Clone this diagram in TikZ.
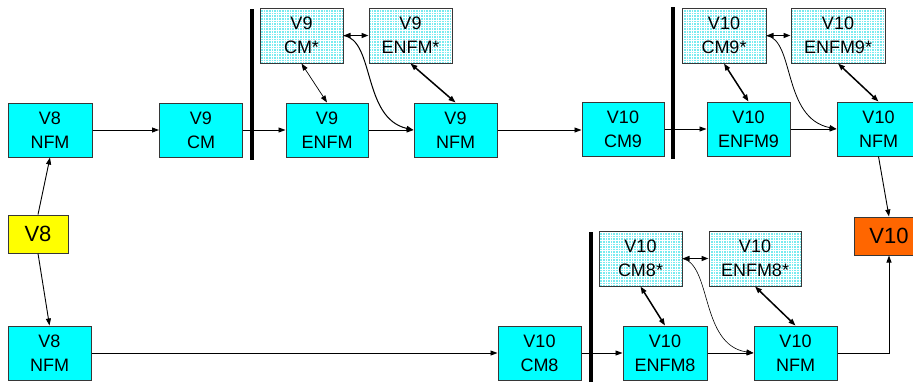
\documentclass[tikz,border=0pt]{standalone}
\usepackage{fontspec}
\setmainfont{Liberation Sans}
\usetikzlibrary{arrows.meta}
\definecolor{boxcyan}{RGB}{0,255,255}
\definecolor{boxyellow}{RGB}{255,255,0}
\definecolor{boxorange}{RGB}{255,102,0}
\definecolor{boxedge}{RGB}{55,55,55}
\definecolor{gridcyan}{RGB}{120,235,240}
\tikzset{
  tip/.style={-{Triangle[length=7pt,width=5pt]}},
  dtip/.style={{Triangle[length=7pt,width=5pt]}-{Triangle[length=7pt,width=5pt]}},
  mbox/.style={draw=boxedge, line width=1pt, fill=boxcyan, minimum width=83pt, minimum height=54pt,
    inner sep=0pt, align=center, font=\fontsize{18}{24}\selectfont},
  starbox/.style={mbox, fill=gridcyan, path picture={
      \draw[white, line width=0.7pt] (path picture bounding box.south west) grid[step=2.6pt] (path picture bounding box.north east);}},
  endbox/.style={draw=boxedge, line width=1pt, minimum width=60pt, minimum height=38pt, inner sep=0pt,
    font=\fontsize{22}{26}\selectfont},
  bar/.style={line width=3.5pt},
  conn/.style={tip, line width=0.9pt},
  dconn/.style={dtip, line width=1.5pt},
}
\begin{document}
\begin{tikzpicture}[x=1pt,y=-1pt]
\useasboundingbox (0,0) rectangle (913,381);
% bars
\draw[bar] (252,9) -- (252,160);
\draw[bar] (673,7) -- (673,159);
\draw[bar] (591,232) -- (591,383);
% nodes
\node[endbox, fill=boxyellow] (v8y) at (38,234) {V8};
\node[endbox, fill=boxorange, minimum width=70pt] (v10o) at (889,236) {V10};
\node[mbox, minimum width=84pt] (v8nt) at (50,130) {V8\\NFM};
\node[mbox] (v9cm) at (201,130) {V9\\CM};
\node[mbox, minimum width=82pt] (v9enfm) at (327,130) {V9\\ENFM};
\node[mbox] (v9nfm) at (455.5,130) {V9\\NFM};
\node[mbox, minimum width=82pt] (v10cm9) at (623,129) {V10\\CM9};
\node[mbox] (v10enfm9) at (748.5,129) {V10\\ENFM9};
\node[mbox] (v10nfmt) at (878.5,129) {V10\\NFM};
\node[starbox, minimum height=55pt] (v9cms) at (301.5,35.5) {V9\\CM*};
\node[starbox, minimum height=55pt] (v9enfms) at (410.5,35.5) {V9\\ENFM*};
\node[starbox, minimum height=55pt, minimum width=84pt] (v10cm9s) at (724,35.5) {V10\\CM9*};
\node[starbox, minimum height=55pt, minimum width=94pt] (v10enfm9s) at (838,35.5) {V10\\ENFM9*};
\node[mbox] (v8nb) at (49.5,353) {V8\\NFM};
\node[mbox] (v10cm8) at (539.5,353) {V10\\CM8};
\node[mbox, minimum width=84pt] (v10enfm8) at (665,353) {V10\\ENFM8};
\node[mbox] (v10nfmb) at (795.5,353) {V10\\NFM};
\node[starbox, minimum height=55pt] (v10cm8s) at (640.5,258.5) {V10\\CM8*};
\node[starbox, minimum height=55pt, minimum width=92pt] (v10enfm8s) at (755,258.5) {V10\\ENFM8*};
% single arrows
\draw[conn] (v8y.north) -- (v8nt.south);
\draw[conn] (v8y.south) -- (v8nb.north);
\draw[conn] (v8nt.east) -- (v9cm.west);
\draw[conn] (v9cm.east) -- (v9enfm.west);
\draw[conn] (v9enfm.east) -- (v9nfm.west);
\draw[conn] (v9nfm.east) -- (v10cm9.west |- v9nfm.east);
\draw[conn] (v10cm9.east) -- (v10enfm9.west);
\draw[conn] (v10enfm9.east) -- (v10nfmt.west);
\draw[conn] (v10nfmt.south) -- (v10o.north);
\draw[conn] (v8nb.east) -- (v10cm8.west);
\draw[conn] (v10cm8.east) -- (v10enfm8.west);
\draw[conn] (v10enfm8.east) -- (v10nfmb.west);
\draw[conn] (v10nfmb.east) -| (v10o.south);
% double arrows
\draw[dtip, line width=0.7pt] (v9cms.south) -- (v9enfm.north);
\draw[dconn] (v9cms.east) -- (v9enfms.west);
\draw[dconn] (v9enfms.south) -- (v9nfm.north);
\draw[dconn] (v10cm9s.south) -- (v10enfm9.north);
\draw[dconn] (v10cm9s.east) -- (v10enfm9s.west);
\draw[dconn] (v10enfm9s.south) -- (v10nfmt.north);
\draw[dconn] (v10cm8s.south) -- (v10enfm8.north);
\draw[dconn] (v10cm8s.east) -- (v10enfm8s.west);
\draw[dconn] (v10enfm8s.south) -- (v10nfmb.north);
% curves
\draw[tip, line width=1pt] (v9cms.east) .. controls (375,40) and (362,118) .. (v9nfm.west);
\draw[tip, line width=0.8pt] (v10cm9s.east) .. controls (795,40) and (782,118) .. (v10nfmt.west);
\draw[tip, line width=0.6pt] (v10cm8s.east) .. controls (712,265) and (700,345) .. (v10nfmb.west);
\end{tikzpicture}
\end{document}
